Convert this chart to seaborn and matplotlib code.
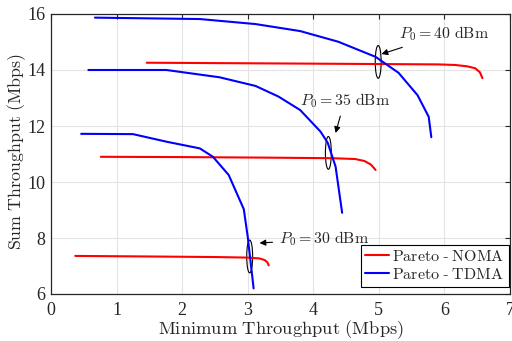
import numpy as np
import pandas as pd
import matplotlib
matplotlib.use("Agg")
import matplotlib.pyplot as plt
from matplotlib.patches import Ellipse
from matplotlib.lines import Line2D
from matplotlib.text import Text
import seaborn as sns

# pareto curves (min throughput, sum throughput)
noma_40_x = [1.46, 3.0, 4.5, 5.9, 6.16, 6.35, 6.47, 6.54, 6.58]
noma_40_y = [14.26, 14.24, 14.22, 14.2, 14.18, 14.13, 14.06, 13.92, 13.71]
tdma_40_x = [0.67, 2.27, 3.12, 3.8, 4.38, 4.95, 5.30, 5.59, 5.76, 5.8]
tdma_40_y = [15.87, 15.82, 15.64, 15.39, 15.01, 14.47, 13.9, 13.1, 12.33, 11.6]

noma_35_x = [0.76, 2.0, 3.3, 4.3, 4.64, 4.78, 4.88, 4.95]
noma_35_y = [10.9, 10.89, 10.87, 10.85, 10.82, 10.75, 10.62, 10.43]
tdma_35_x = [0.57, 1.76, 2.57, 3.12, 3.47, 3.8, 4.11, 4.22, 4.34, 4.44]
tdma_35_y = [14.0, 14.0, 13.74, 13.43, 13.05, 12.57, 11.8, 11.4, 10.55, 8.9]

noma_30_x = [0.37, 1.5, 2.5, 3.0, 3.18, 3.26, 3.3, 3.32]
noma_30_y = [7.36, 7.34, 7.32, 7.3, 7.27, 7.21, 7.13, 7.02]
tdma_30_x = [0.46, 1.25, 1.76, 2.27, 2.47, 2.71, 2.94, 3.0, 3.09]
tdma_30_y = [11.72, 11.71, 11.44, 11.2, 10.9, 10.25, 9.03, 8.05, 6.2]

rows = []
for name, xs, ys in [
    ("Pareto - NOMA|40", noma_40_x, noma_40_y),
    ("Pareto - TDMA|40", tdma_40_x, tdma_40_y),
    ("Pareto - NOMA|35", noma_35_x, noma_35_y),
    ("Pareto - TDMA|35", tdma_35_x, tdma_35_y),
    ("Pareto - NOMA|30", noma_30_x, noma_30_y),
    ("Pareto - TDMA|30", tdma_30_x, tdma_30_y),
]:
    scheme, p0 = name.split("|")
    for x, y in zip(xs, ys):
        rows.append({"x": x, "y": y, "scheme": scheme, "p0": p0})
df = pd.DataFrame(rows)

sns.set_theme(style="whitegrid")
plt.rcParams["font.family"] = ["Liberation Serif", "DejaVu Serif"]
plt.rcParams["mathtext.fontset"] = "cm"

fig = plt.figure(figsize=(5.12, 3.41), dpi=100)
ax = fig.add_axes([51 / 512, 1 - 294 / 341, 459 / 512, 280 / 341])

palette = {"Pareto - NOMA": "#ff0000", "Pareto - TDMA": "#0000ff"}
sns.lineplot(data=df, x="x", y="y", hue="scheme", units="p0", estimator=None,
             sort=False, palette=palette, linewidth=1.5, ax=ax, legend=False)

ax.set_xlim(0, 7)
ax.set_ylim(6, 16)
ax.set_xticks(range(0, 8))
ax.set_yticks(range(6, 17, 2))
ax.grid(True, color="#e3e3e3", linewidth=0.8)
ax.set_facecolor("white")
for s in ax.spines.values():
    s.set_color("#262626")
    s.set_linewidth(0.9)
ax.tick_params(direction="in", top=True, right=True, length=3.5, width=0.8,
               labelsize=13, colors="#262626")
ax.tick_params(axis="x", pad=6)
ax.tick_params(axis="y", pad=4)

xl = ax.set_xlabel(r"$\mathrm{Minimum\ Throughput\ (Mbps)}$", fontsize=14,
                   color="#262626")
yl = ax.set_ylabel(r"$\mathrm{Sum\ Throughput\ (Mbps)}$", fontsize=14,
                   color="#262626")
ax.xaxis.set_label_coords(0.5, -0.087)
ax.yaxis.set_label_coords(-0.05, 0.509)

# ellipses marking the crossing points
for cx, cy in [(4.99, 14.29), (4.23, 11.04), (3.03, 7.34)]:
    ax.add_patch(Ellipse((cx, cy), 0.09, 1.17, fill=False, ec="black", lw=0.8))

annots = [
    (r"$P_0 = 40\ \mathrm{dBm}$", (5.04, 14.57), (5.31, 15.29)),
    (r"$P_0 = 35\ \mathrm{dBm}$", (4.34, 11.75), (3.79, 12.9)),
    (r"$P_0 = 30\ \mathrm{dBm}$", (3.18, 7.82), (3.47, 7.96)),
]
ann_objs = []
for txt, head, pos in annots:
    a = ax.annotate(txt, xy=head, xytext=pos, fontsize=12, va="center", ha="left",
                    arrowprops=dict(arrowstyle="-|>", color="black", lw=0.8,
                                    shrinkA=2, shrinkB=0, mutation_scale=9))
    ann_objs.append(a)

handles = [Line2D([], [], color=palette[k], lw=1.5) for k in palette]
leg = ax.legend(handles, [r"$\mathrm{Pareto}$ - $\mathrm{NOMA}$",
                          r"$\mathrm{Pareto}$ - $\mathrm{TDMA}$"],
                loc="lower right", bbox_to_anchor=(0.997, 0.025), borderaxespad=0,
                fontsize=11.5, fancybox=False, framealpha=1, handlelength=1.5,
                handletextpad=0.2, borderpad=0.25, labelspacing=0.15)
leg.get_frame().set_edgecolor("black")
leg.get_frame().set_linewidth(0.8)

# scale text sizes to the widths measured on the reference (pixels)
fig.canvas.draw()
r = fig.canvas.get_renderer()
w = xl.get_window_extent(r).width
xl.set_fontsize(14 * 246 / w)
h = yl.get_window_extent(r).height
yl.set_fontsize(14 * 197 / h)
for a in ann_objs:
    w = Text.get_window_extent(a, r).width
    a.set_fontsize(12 * 90 / w)

fig.savefig("out.png", dpi=100)
